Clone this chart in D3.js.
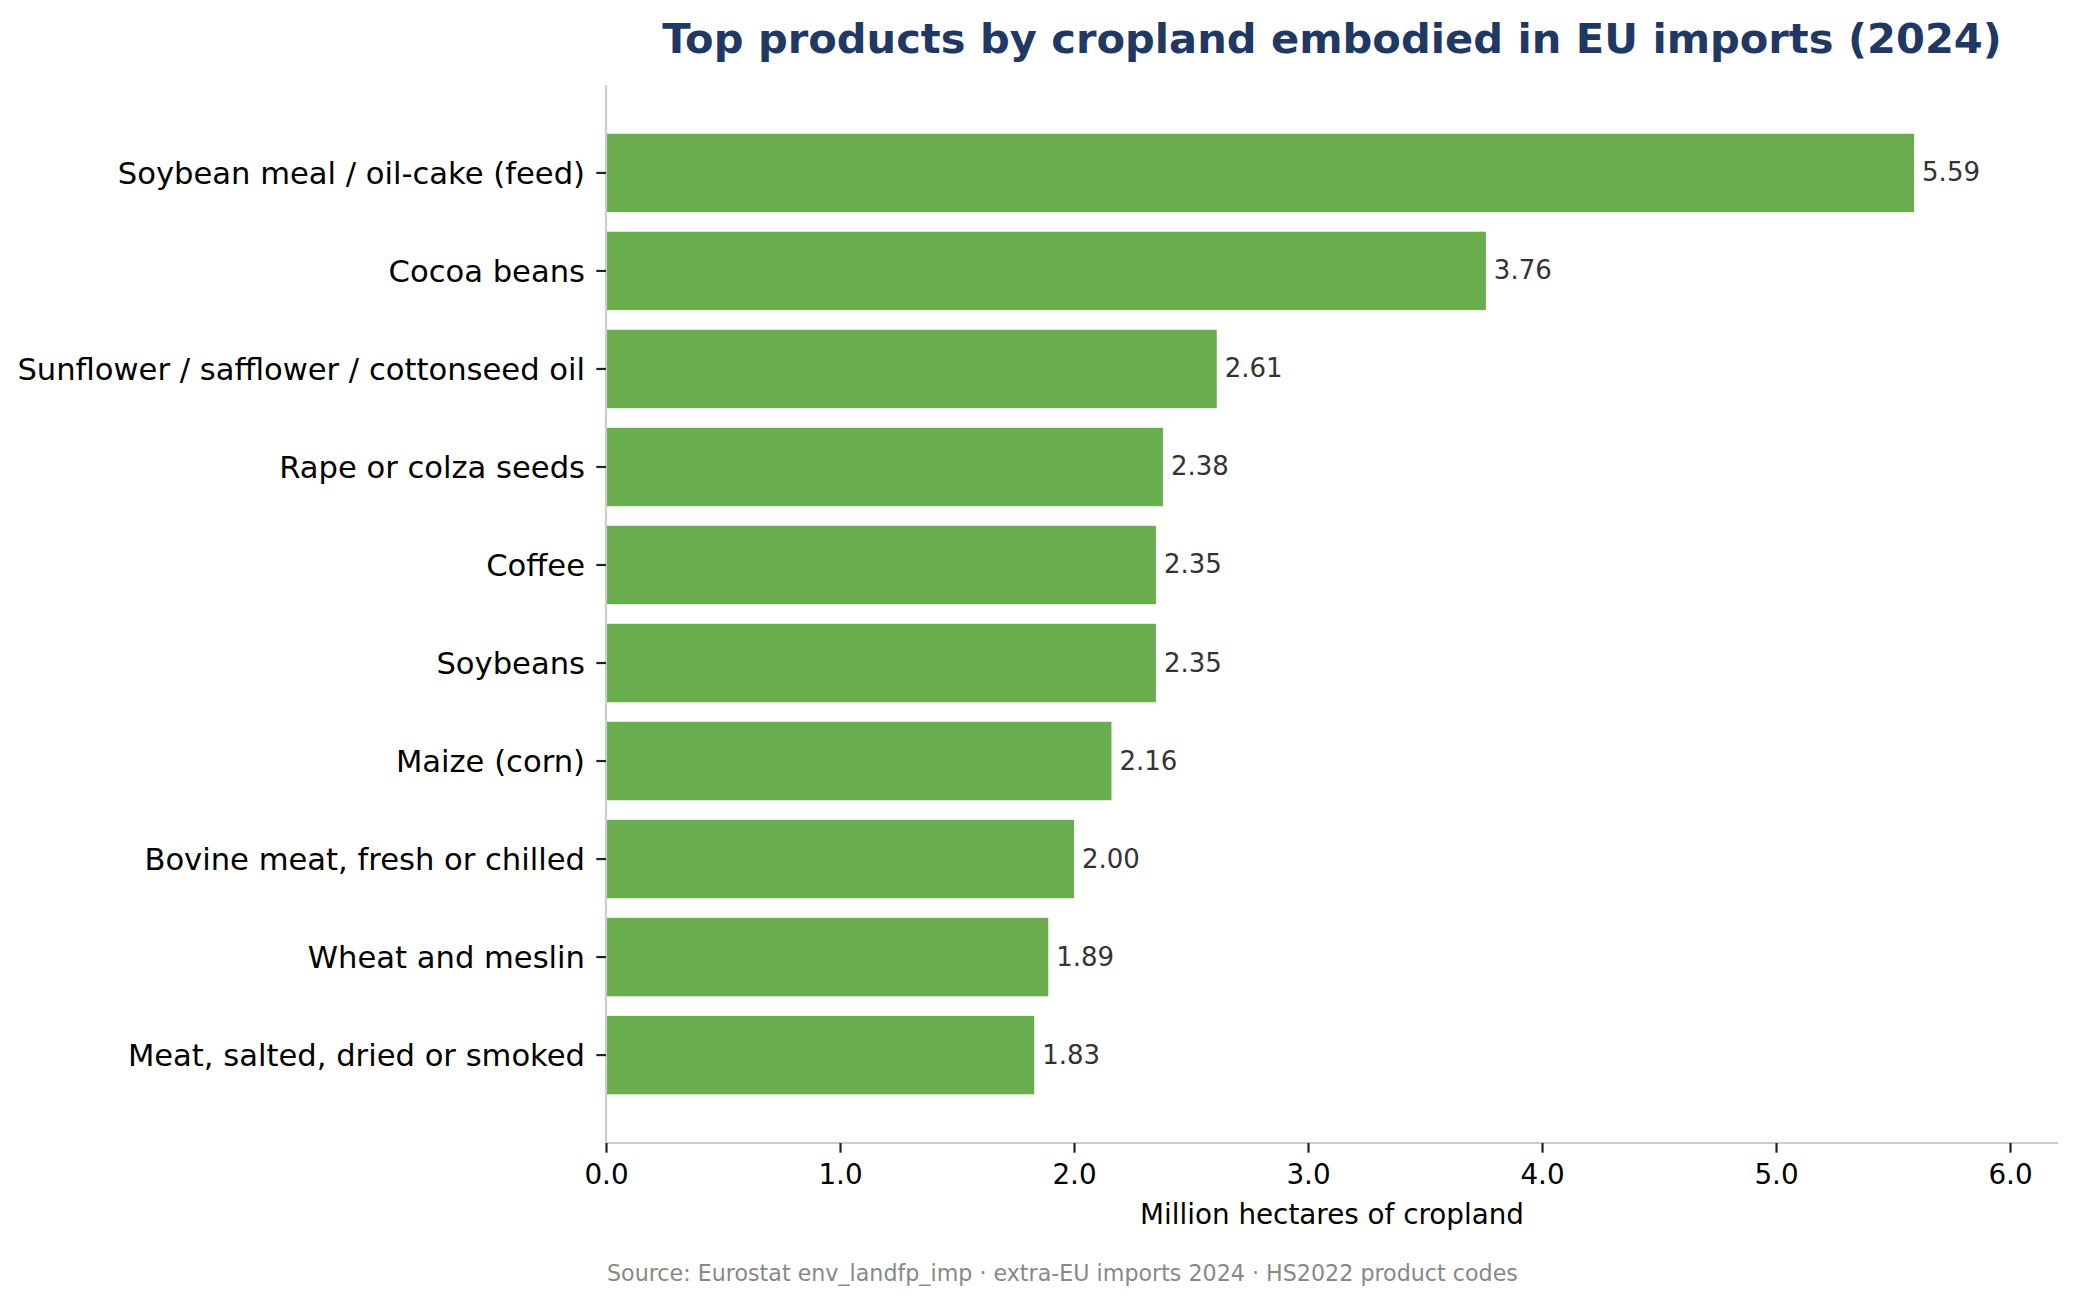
<!DOCTYPE html>
<html>
<head>
<meta charset="utf-8">
<script src="https://cdn.jsdelivr.net/npm/d3@7/dist/d3.min.js"></script>
<style>
  html, body { margin: 0; padding: 0; background: #ffffff; }
  svg { display: block; font-family: "DejaVu Sans", sans-serif; }
</style>
</head>
<body>
<svg id="chart" width="2077" height="1305"></svg>
<script>
const categories = [
  "Soybean meal / oil-cake (feed)",
  "Cocoa beans",
  "Sunflower / safflower / cottonseed oil",
  "Rape or colza seeds",
  "Coffee",
  "Soybeans",
  "Maize (corn)",
  "Bovine meat, fresh or chilled",
  "Wheat and meslin",
  "Meat, salted, dried or smoked"
];
const values = [5.59, 3.76, 2.61, 2.38, 2.35, 2.35, 2.16, 2.00, 1.89, 1.83];
const xTicks = [0, 1, 2, 3, 4, 5, 6];
const titleText = "Top products by cropland embodied in EU imports (2024)";
const xLabelText = "Million hectares of cropland";
const sourceText = "Source: Eurostat env_landfp_imp · extra-EU imports 2024 · HS2022 product codes";

const svg = d3.select("#chart");
svg.append("rect").attr("width", 2077).attr("height", 1305).attr("fill", "#ffffff");

const plot = { left: 606, right: 2058, top: 85, bottom: 1143 };

const x = d3.scaleLinear().domain([0, 6.205]).range([plot.left, plot.right]);
const y = d3.scaleBand().domain(categories).range([plot.top, plot.bottom])
  .paddingInner(0.2).paddingOuter(0.497);

const data = categories.map((c, i) => ({ name: c, value: values[i] }));

// Bars
svg.append("g").selectAll("rect").data(data).join("rect")
  .attr("x", x(0))
  .attr("y", d => y(d.name))
  .attr("width", d => x(d.value) - x(0))
  .attr("height", y.bandwidth())
  .attr("fill", "#6aad4f");

// Value labels
svg.append("g").selectAll("text").data(data).join("text")
  .attr("x", d => x(d.value) + 8)
  .attr("y", d => y(d.name) + y.bandwidth() / 2 + 8.5)
  .attr("font-size", 26)
  .attr("fill", "#333333")
  .text(d => d.value.toFixed(2));

// X axis
const xAxis = d3.axisBottom(x).tickValues(xTicks).tickFormat(d3.format(".1f"))
  .tickSizeInner(9.7).tickSizeOuter(0).tickPadding(10);
const gx = svg.append("g").attr("transform", `translate(0,${plot.bottom})`).call(xAxis);
gx.select(".domain").attr("stroke", "#cccccc").attr("stroke-width", 2.2)
  .attr("d", `M${plot.left},0H${plot.right}`);
gx.selectAll(".tick line").attr("stroke", "#222222").attr("stroke-width", 2.2);
gx.selectAll(".tick text").attr("font-size", 27.8).attr("fill", "#000000")
  .attr("font-family", "DejaVu Sans").attr("dy", null).attr("y", 41);

// Y axis
const yAxis = d3.axisLeft(y).tickSizeInner(9.7).tickSizeOuter(0).tickPadding(10);
const gy = svg.append("g").attr("transform", `translate(${plot.left},0)`).call(yAxis);
gy.select(".domain").attr("stroke", "#cccccc").attr("stroke-width", 2.2)
  .attr("d", `M0,${plot.top}V${plot.bottom}`);
gy.selectAll(".tick line").attr("stroke", "#222222").attr("stroke-width", 2.2);
gy.selectAll(".tick text").attr("font-size", 30.6).attr("fill", "#000000")
  .attr("font-family", "DejaVu Sans").attr("dy", null).attr("y", 11).attr("x", -21);

gy.raise();

// Axis label
svg.append("text")
  .attr("x", (plot.left + plot.right) / 2)
  .attr("y", 1224)
  .attr("text-anchor", "middle")
  .attr("font-size", 27.8)
  .attr("fill", "#000000")
  .text(xLabelText);

// Title
svg.append("text")
  .attr("x", (plot.left + plot.right) / 2)
  .attr("y", 53)
  .attr("text-anchor", "middle")
  .attr("font-size", 41.6)
  .attr("font-weight", "bold")
  .attr("fill", "#1f3864")
  .text(titleText);

// Source
svg.append("text")
  .attr("x", plot.left + 1)
  .attr("y", 1281)
  .attr("font-size", 22.2)
  .attr("fill", "#888888")
  .text(sourceText);
</script>
</body>
</html>
